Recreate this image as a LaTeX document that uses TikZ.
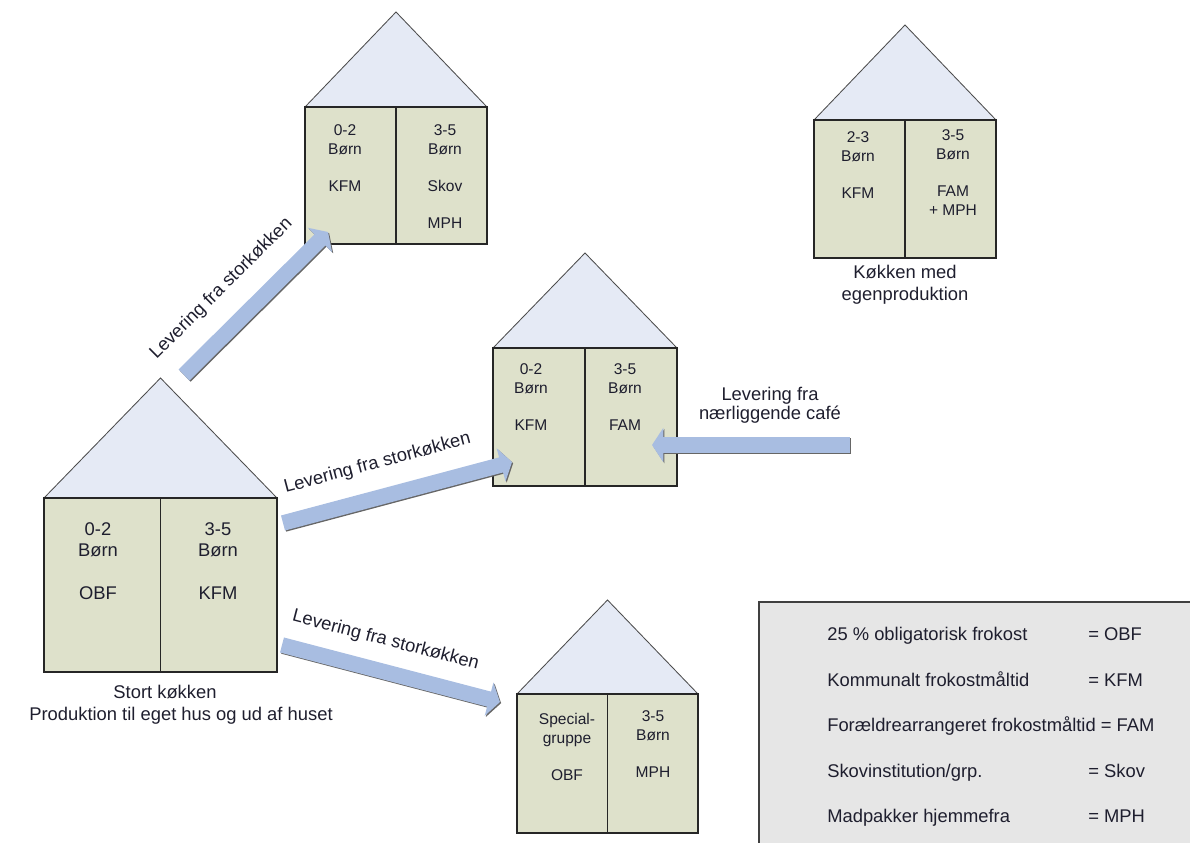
\documentclass[tikz,border=0pt]{standalone}
\usepackage{fontspec}
\setmainfont{Liberation Sans}
\usetikzlibrary{arrows.meta}
\definecolor{tag}{HTML}{E5EAF5}
\definecolor{mur}{HTML}{DEE1CB}
\definecolor{pilblaa}{HTML}{A8BDE1}
\definecolor{boks}{HTML}{E6E6E6}
\definecolor{skrift}{HTML}{1E1E2E}
\begin{document}
\begin{tikzpicture}[x=0.7076pt,y=-0.7076pt,font=\fontsize{13}{15.5}\selectfont,
		every node/.style={text=skrift,inner sep=0pt},
		pil/.style={line width=11pt,pilblaa,-{Triangle[width=24pt,length=8pt]}},
		pilskygge/.style={pil,black!60,transform canvas={shift={(0.8pt,-0.8pt)}}},
		pilord/.style={sloped,anchor=south},
		rum/.style={anchor=north,align=center,font=\fontsize{11}{13.4}\selectfont},
		storrum/.style={anchor=north,align=center,font=\fontsize{13}{15.2}\selectfont}]
	\useasboundingbox (0,0) rectangle (1190,843);
	% huse: venstre/hoejre/tagfod/bund/tagtop
	\foreach \v/\h/\t/\b/\s in {305/487/107/244/12, 814/996/120/258/25, 493/677/348/486/253, 44/277/498/672/378, 517/698/694/833/600}{
		\draw[fill=tag,draw=black!70,line width=0.6pt] (\v,\t) -- ({(\v+\h)/2},\s) -- (\h,\t) -- cycle;
		\draw[fill=mur,draw=black!85,line width=0.9pt] (\v,\t) rectangle (\h,\b);
		\draw[black!85,line width=0.9pt] ({(\v+\h)/2},\t) -- ({(\v+\h)/2},\b);
	}
	% tekst i husene
	\node[rum] (a-v) at (345,124) {0-2\\Børn\\[13pt]KFM};
	\node[rum] (a-h) at (445,124) {3-5\\Børn\\[13pt]Skov\\[13pt]MPH};
	\node[rum] (b-v) at (858,131) {2-3\\Børn\\[13pt]KFM};
	\node[rum] (b-h) at (953,129) {3-5\\Børn\\[13pt]FAM\\+ MPH};
	\node[rum] (c-v) at (531,363) {0-2\\Børn\\[13pt]KFM};
	\node[rum] (c-h) at (625,363) {3-5\\Børn\\[13pt]FAM};
	\node[rum] (e-v) at (567,713) {Special-\\gruppe\\[13pt]OBF};
	\node[rum] (e-h) at (653,710) {3-5\\Børn\\[13pt]MPH};
	\node[storrum] (d-v) at (98,522) {0-2\\Børn\\[15pt]OBF};
	\node[storrum] (d-h) at (218,522) {3-5\\Børn\\[15pt]KFM};
	\node[anchor=base] (d-navn) at (165,698) {Stort køkken};
	\node[anchor=base] (d-tekst) at (181,720) {Produktion til eget hus og ud af huset};
	\node[anchor=north,align=center] (b-navn) at (905,265) {Køkken med\\egenproduktion};
	\node[anchor=north,align=center,font=\fontsize{13}{13.5}\selectfont] (cafe) at (770,387) {Levering fra\\nærliggende café};
	% pile
	\coordinate (p1a) at (184,375); \coordinate (p1b) at (328,232);
	\coordinate (p2a) at (283,523); \coordinate (p2b) at (512,462);
	\coordinate (p3a) at (282,645); \coordinate (p3b) at (500,702);
	\coordinate (p4a) at (850,445); \coordinate (p4b) at (652,445);
	\foreach \a/\b in {p1a/p1b, p2a/p2b, p3a/p3b, p4a/p4b}
		\draw[pilskygge] (\a) -- (\b);
	\draw[pil] (p1a) -- (p1b) node[pilord,pos=0.43,above=13pt] {Levering fra storkøkken};
	\draw[pil] (p2a) -- (p2b) node[pilord,pos=0.45,above=12pt] {Levering fra storkøkken};
	\draw[pil] (p3a) -- (p3b) node[pilord,pos=0.44,above=10pt] {Levering fra storkøkken};
	\draw[pil] (p4a) -- (p4b);
	% forklaring
	\draw[fill=boks,draw=black!75,line width=0.9pt] (759,602) rectangle (1200,850);
	\foreach \y/\tekst/\fork in {640/{25 \% obligatorisk frokost}/OBF, 686/{Kommunalt frokostmåltid}/KFM, 777/{Skovinstitution/grp.}/Skov, 822/{Madpakker hjemmefra}/MPH}{
		\node[anchor=base west] (navn-\fork) at (827,\y) {\tekst};
		\node[anchor=base west] (fork-\fork) at (1088,\y) {= \fork};
	}
	\node[anchor=base west] (fork-FAM) at (827,731) {Forældrearrangeret frokostmåltid = FAM};
\end{tikzpicture}
\end{document}
